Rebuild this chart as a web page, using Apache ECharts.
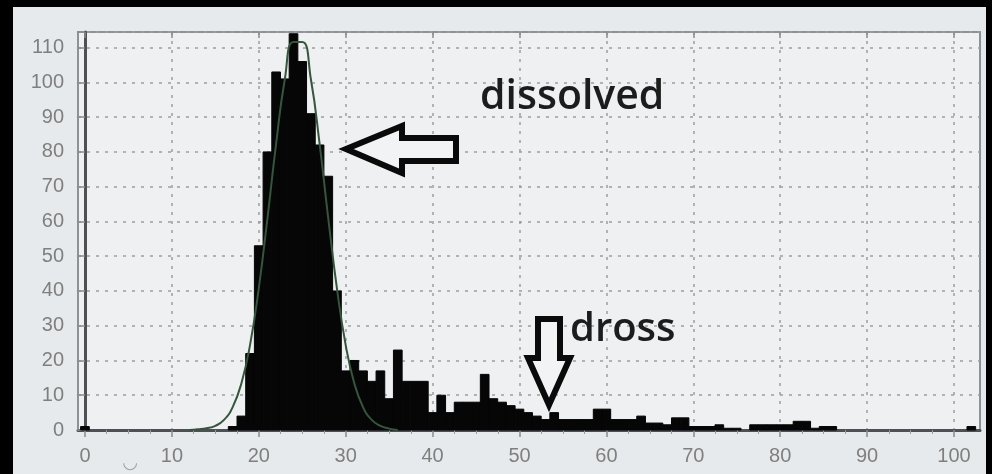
<!DOCTYPE html>
<html>
<head>
<meta charset="utf-8">
<script src="https://cdn.jsdelivr.net/npm/echarts@6/dist/echarts.min.js"></script>
<style>
    html, body { margin: 0; padding: 0; background: #000; }
    #histChart { width: 992px; height: 474px; }
</style>
</head>
<body>
<div id="histChart"></div>
<script>
// bin centres (1 unit wide) and counts
const binCenters = [0, 17, 18, 19, 20, 21, 22, 23, 24, 25, 26, 27, 28, 29, 30,
    31, 32, 33, 34, 35, 36, 37, 38, 39, 40, 41, 42, 43, 44, 45,
    46, 47, 48, 49, 50, 51, 52, 53, 54, 55, 56, 57, 58, 59, 60,
    61, 62, 63, 64, 65, 66, 67, 68, 69, 70, 71, 72, 73, 74, 75,
    77, 78, 79, 80, 81, 82, 83, 84, 85, 86, 102];
const binCounts = [1, 1, 4, 22, 53, 80, 103, 101, 114, 106, 91, 82, 73, 40, 17,
    20, 17, 14, 17, 9, 23, 14, 14, 14, 5, 10, 5, 8, 8, 8,
    16, 9, 8, 7, 6, 5, 4, 3, 5, 3, 3, 3, 3, 6, 6,
    3, 3, 3, 4, 2, 2, 1.5, 3.5, 3.5, 1, 1, 1, 1.5, 0.5, 0.5,
    1.5, 1.5, 1.5, 1.5, 1.5, 2.5, 2.5, 0.5, 1, 1, 1];

// fitted curve, points
const curveX = [12, 13, 14, 15, 16, 17, 18, 19, 20, 21, 22, 23, 24, 25,
    26, 27, 28, 29, 30, 31, 32, 33, 34, 35, 36];
const curveY = [0, 0.2, 0.5, 1.2, 2.9, 6.6, 13.4, 24.5, 40.7, 60.9, 82.4, 100.9, 111.6, 111.6,
    100.9, 82.4, 60.9, 40.7, 24.5, 13.4, 6.6, 2.9, 1.2, 0.4, 0];

const xTickMin = 0;
const xTickMax = 100;
const yMax = 114.5;

var barData = binCenters.map((x, i) => [x, binCounts[i]]);
var curveData = curveX.map((x, i) => [x, curveY[i]]);

var myChart = echarts.init(document.getElementById('histChart'));

myChart.setOption({
    backgroundColor: '#000',
    animation: false,
    grid: [
        {
            // plot frame, carries the data
            left: 78, right: 12, top: 32, bottom: 44,
            show: true,
            backgroundColor: '#eef0f2',
            borderColor: '#8e9297',
            borderWidth: 2
        },
        {
            // same height, only for the x ticks 0..100
            left: 85, right: 38, top: 32, bottom: 44,
            show: false
        }
    ],
    xAxis: [
        {
            type: 'value', gridIndex: 0,
            min: -0.8, max: 103,
            axisLine: { show: true, lineStyle: { color: '#4d5156', width: 3 } },
            axisTick: { show: false },
            axisLabel: { show: false },
            splitLine: { show: false }
        },
        {
            type: 'value', gridIndex: 1,
            min: xTickMin, max: xTickMax, interval: 10,
            axisLine: { show: false },
            axisTick: { show: true, length: 7, lineStyle: { color: '#8a8a8a', width: 1.5 } },
            minorTick: { show: true, splitNumber: 4, length: 4, lineStyle: { color: '#9a9a9a' } },
            axisLabel: {
                color: '#7f7f7f', fontSize: 20, margin: 16,
                fontFamily: 'Liberation Sans'
            },
            splitLine: { show: true, lineStyle: { color: '#9c9fa3', type: [3, 6], width: 1.5 } }
        },
        {
            type: 'value', gridIndex: 1, position: 'top',
            min: xTickMin, max: xTickMax, interval: 10,
            axisLine: { show: false },
            axisTick: { show: true, inside: true, length: 6, lineStyle: { color: '#8a8a8a', width: 1.5 } },
            axisLabel: { show: false },
            splitLine: { show: false }
        }
    ],
    yAxis: [
        {
            type: 'value', gridIndex: 0,
            min: 0, max: yMax, interval: 10,
            axisLine: { show: true, lineStyle: { color: '#4d5156', width: 3 } },
            axisTick: { show: true, length: 8, lineStyle: { color: '#8a8a8a', width: 1.5 } },
            axisLabel: {
                color: '#7f7f7f', fontSize: 20, margin: 14,
                fontFamily: 'Liberation Sans',
                formatter: v => (v > 110 ? '' : v)
            },
            splitLine: { show: true, lineStyle: { color: '#9c9fa3', type: [3, 6], width: 1.5 } }
        },
        {
            type: 'value', gridIndex: 1,
            min: 0, max: yMax, show: false
        }
    ],
    series: [
        {
            name: 'histogram',
            type: 'custom',
            xAxisIndex: 0, yAxisIndex: 0,
            data: barData,
            renderItem: function (params, api) {
                var x = api.value(0);
                var y = api.value(1);
                var p1 = api.coord([x - 0.5, y]);
                var p2 = api.coord([x + 0.5, 0]);
                return {
                    type: 'rect',
                    shape: { x: p1[0], y: p1[1], width: p2[0] - p1[0], height: p2[1] - p1[1] },
                    style: { fill: '#060606', stroke: '#060606', lineWidth: 1 }
                };
            },
            z: 3
        },
        {
            name: 'fit',
            type: 'line',
            xAxisIndex: 0, yAxisIndex: 0,
            data: curveData,
            smooth: true,
            showSymbol: false,
            lineStyle: { color: '#35553d', width: 2 },
            z: 4
        }
    ],
    graphic: [
        {
            type: 'rect', z: -10,
            shape: { x: 13, y: 7, width: 973, height: 470 },
            style: { fill: '#e7eaed' }
        },
        {
            type: 'text', z: 100,
            style: {
                x: 480, y: 97, text: 'dissolved',
                font: '600 41px "Open Sans"', fill: '#1c1c1c',
                verticalAlign: 'middle'
            }
        },
        {
            type: 'text', z: 100,
            style: {
                x: 570, y: 330, text: 'dross',
                font: '600 40px "Open Sans"', fill: '#1c1c1c',
                verticalAlign: 'middle'
            }
        },
        {
            type: 'text', z: 100,
            style: {
                x: 130, y: 463, text: '◡',
                font: '18px "DejaVu Sans"', fill: '#a0a0a0',
                align: 'center', verticalAlign: 'middle'
            }
        },
        {
            // left-pointing hollow arrow
            type: 'polygon', z: 100,
            shape: { points: [[346, 149], [402, 126], [402, 138], [456, 138], [456, 161], [402, 161], [402, 173]] },
            style: { fill: '#f2f3f5', stroke: '#0a0a0a', lineWidth: 6, lineJoin: 'miter' }
        },
        {
            // down-pointing hollow arrow
            type: 'polygon', z: 100,
            shape: { points: [[538, 319], [560, 319], [560, 358], [570, 358], [549, 405], [528, 358], [538, 358]] },
            style: { fill: '#f2f3f5', stroke: '#0a0a0a', lineWidth: 6, lineJoin: 'miter' }
        }
    ]
});
</script>
</body>
</html>
